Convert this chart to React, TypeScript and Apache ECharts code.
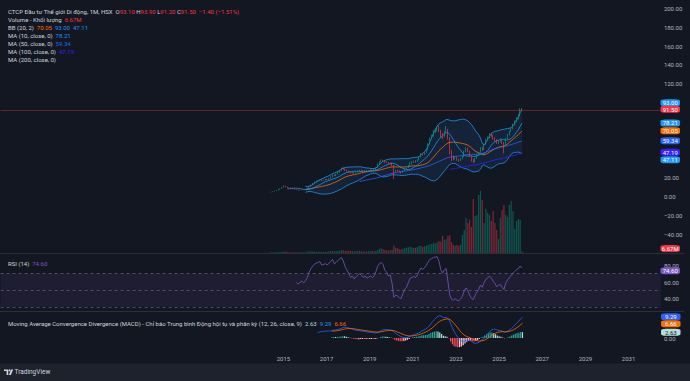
import React, { useEffect, useRef } from "react";
import * as echarts from "echarts";

// ---------- DATA (monthly bars, CTCP Đầu tư Thế giới Di động, HSX) ----------
const firstMonth = 174; // months since 2000-01  -> 2014-07
const opens = [
  4.3, 4.8, 5.3, 6.0, 6.6, 7.6, 8.3, 9.6, 11.2, 10.2,
  9.3, 8.9, 8.3, 8.0, 7.2, 6.8, 6.5, 7.0, 7.3, 7.0,
  7.6, 8.5, 10.5, 12.3, 14.0, 15.5, 16.5, 17.0, 17.8, 17.2,
  17.5, 18.2, 18.0, 19.0, 21.0, 22.8, 22.0, 23.5, 25.5, 27.5,
  30.0, 29.2, 27.8, 27.0, 26.0, 25.0, 25.8, 25.0, 26.0, 27.0,
  28.0, 27.5, 27.0, 27.8, 27.2, 27.6, 28.2, 27.8, 28.5, 30.5,
  34.5, 37.0, 38.5, 38.0, 36.5, 36.0, 35.0, 35.5, 33.0, 26.5,
  27.5, 27.0, 26.0, 25.5, 27.5, 29.5, 30.5, 33.0, 36.0, 36.5,
  37.5, 37.0, 39.0, 42.0, 45.5, 45.0, 47.0, 50.0, 56.0, 62.5,
  65.0, 69.0, 71.0, 72.0, 70.0, 66.0, 64.0, 69.0, 71.0, 62.0,
  48.0, 41.5, 40.0, 41.5, 39.0, 38.5, 40.0, 42.5, 48.0, 51.0,
  48.0, 43.0, 38.5, 37.0, 40.5, 44.0, 47.0, 52.0, 50.0, 56.0,
  61.0, 63.0, 66.5, 65.0, 62.0, 60.0, 57.0, 58.5, 59.5, 57.0,
  55.0, 62.0, 66.0, 69.5, 73.0, 77.0, 80.5, 84.0, 86.5, 93.1,
];
const highs = [
  5.1, 5.5, 6.2, 6.9, 7.9, 8.6, 9.8, 11.8, 11.6, 10.6,
  9.7, 9.4, 8.8, 8.2, 7.6, 7.1, 7.3, 7.6, 7.5, 7.9,
  8.8, 10.8, 12.6, 14.4, 15.9, 17.0, 17.4, 18.3, 18.0, 17.9,
  18.6, 18.7, 19.4, 21.4, 23.3, 23.2, 24.0, 26.0, 28.0, 30.8,
  31.0, 29.8, 28.5, 27.6, 26.5, 26.3, 26.2, 26.4, 27.5, 28.6,
  28.6, 28.0, 28.3, 28.1, 28.0, 28.8, 28.6, 29.0, 31.0, 35.0,
  37.6, 39.5, 39.2, 38.4, 37.5, 36.6, 36.2, 36.0, 33.6, 28.6,
  28.4, 27.8, 26.6, 28.0, 30.0, 31.2, 33.5, 36.5, 37.8, 38.2,
  38.6, 39.5, 42.5, 46.2, 46.5, 47.6, 50.5, 56.6, 63.0, 66.0,
  70.5, 72.5, 74.5, 75.5, 71.0, 67.5, 69.8, 75.0, 72.0, 63.0,
  49.5, 43.5, 43.0, 42.0, 40.2, 41.0, 43.5, 48.5, 52.5, 52.0,
  48.8, 43.5, 40.0, 41.0, 44.5, 47.5, 52.5, 53.0, 56.5, 61.5,
  64.0, 67.5, 68.0, 65.5, 63.0, 61.0, 59.5, 60.5, 60.0, 58.0,
  62.5, 66.5, 70.0, 73.5, 77.5, 81.0, 84.5, 87.5, 94.0, 93.9,
];
const lows = [
  4.2, 4.7, 5.2, 5.8, 6.5, 7.3, 8.1, 9.4, 9.8, 9.0,
  8.6, 8.0, 7.7, 7.0, 6.6, 6.2, 6.4, 6.8, 6.7, 6.9,
  7.5, 8.4, 10.3, 12.0, 13.6, 15.2, 16.0, 16.6, 16.7, 16.8,
  17.2, 17.5, 17.8, 18.8, 20.6, 21.5, 21.8, 23.2, 25.0, 27.2,
  28.5, 27.2, 26.5, 25.5, 24.4, 24.6, 24.5, 24.8, 25.7, 26.8,
  27.0, 26.3, 26.6, 26.8, 26.8, 27.3, 27.2, 27.5, 28.2, 30.2,
  34.0, 36.5, 37.0, 35.8, 35.5, 34.4, 34.2, 32.0, 18.5, 25.5,
  26.2, 25.4, 24.2, 25.2, 27.0, 28.8, 30.2, 32.6, 34.0, 35.8,
  36.0, 36.6, 38.6, 41.5, 43.5, 44.2, 46.5, 49.6, 55.5, 61.0,
  63.5, 67.5, 69.5, 68.5, 62.5, 61.0, 63.0, 68.0, 60.5, 45.0,
  37.5, 38.5, 39.5, 38.0, 37.0, 37.8, 39.5, 42.0, 47.0, 47.0,
  42.0, 37.0, 35.5, 36.5, 40.0, 43.5, 46.5, 48.5, 49.5, 55.0,
  59.5, 62.0, 63.5, 60.5, 58.5, 56.0, 56.0, 57.5, 56.0, 46.0,
  54.5, 61.0, 65.0, 68.5, 71.5, 75.5, 79.0, 82.0, 85.5, 91.2,
];
const closes = [
  4.8, 5.3, 6.0, 6.6, 7.6, 8.3, 9.6, 11.2, 10.2, 9.3,
  8.9, 8.3, 8.0, 7.2, 6.8, 6.5, 7.0, 7.3, 7.0, 7.6,
  8.5, 10.5, 12.3, 14.0, 15.5, 16.5, 17.0, 17.8, 17.2, 17.5,
  18.2, 18.0, 19.0, 21.0, 22.8, 22.0, 23.5, 25.5, 27.5, 30.0,
  29.2, 27.8, 27.0, 26.0, 25.0, 25.8, 25.0, 26.0, 27.0, 28.0,
  27.5, 27.0, 27.8, 27.2, 27.6, 28.2, 27.8, 28.5, 30.5, 34.5,
  37.0, 38.5, 38.0, 36.5, 36.0, 35.0, 35.5, 33.0, 26.5, 27.5,
  27.0, 26.0, 25.5, 27.5, 29.5, 30.5, 33.0, 36.0, 36.5, 37.5,
  37.0, 39.0, 42.0, 45.5, 45.0, 47.0, 50.0, 56.0, 62.5, 65.0,
  69.0, 71.0, 72.0, 70.0, 66.0, 64.0, 69.0, 71.0, 62.0, 48.0,
  41.5, 40.0, 41.5, 39.0, 38.5, 40.0, 42.5, 48.0, 51.0, 48.0,
  43.0, 38.5, 37.0, 40.5, 44.0, 47.0, 52.0, 50.0, 56.0, 61.0,
  63.0, 66.5, 65.0, 62.0, 60.0, 57.0, 58.5, 59.5, 57.0, 55.0,
  62.0, 66.0, 69.5, 73.0, 77.0, 80.5, 84.0, 86.5, 92.9, 91.5,
];
// volume, millions of shares
const volumes = [
  4, 3, 3, 4, 5, 4, 6, 9, 7, 5, 4, 4, 3, 4, 3, 3, 4, 4,
  3, 4, 5, 8, 10, 9, 8, 7, 6, 7, 6, 6,
  7, 6, 8, 10, 12, 9, 10, 12, 14, 18, 15, 12,
  13, 11, 12, 10, 9, 10, 11, 12, 10, 9, 10, 9,
  10, 9, 11, 10, 12, 18, 24, 28, 22, 18, 16, 15,
  17, 20, 45, 32, 28, 24, 22, 26, 30, 32, 35, 38,
  34, 30, 32, 36, 42, 44, 38, 40, 45, 48, 52, 55,
  62, 58, 66, 74, 70, 105, 80, 86, 105, 110, 68, 50,
  44, 48, 44, 50, 111, 142, 216, 185, 204, 160, 333, 228,
  234, 358, 383, 327, 185, 272, 247, 235, 198, 259, 185, 142,
  86, 216, 265, 296, 235, 222, 296, 321, 259, 148, 198, 210,
  204, 6.67,
];

// tick labels
const yearLabels = [2015, 2017, 2019, 2021, 2023, 2025, 2027, 2029, 2031];
const priceLabels = [200, 180, 160, 140, 120, 20, 0, -20, -40];
const rsiLabels = [80, 60, 40];
const macdLabels = [0];
const rsiBands = [70, 50, 30];

// last values shown in legends / price-scale tags
const bbLast = [70.05, 93.0, 47.11]; // basis, upper, lower
const maLast = [78.21, 59.34, 47.19]; // MA10, MA50, MA100
const volLast = "6.67M";
const rsiLast = 74.6;
const macdLast = [2.63, 9.29, 6.66]; // histogram, macd, signal

// ---------- indicators ----------
function sma(src: number[], len: number): (number | null)[] {
  return src.map((_, i) => {
    if (i < len - 1) return null;
    let s = 0;
    for (let k = i - len + 1; k <= i; k++) s += src[k];
    return s / len;
  });
}
function stdev(src: number[], len: number): (number | null)[] {
  return src.map((_, i) => {
    if (i < len - 1) return null;
    let m = 0;
    for (let k = i - len + 1; k <= i; k++) m += src[k];
    m /= len;
    let s = 0;
    for (let k = i - len + 1; k <= i; k++) s += (src[k] - m) * (src[k] - m);
    return Math.sqrt(s / len);
  });
}
function ema(src: (number | null)[], len: number): (number | null)[] {
  const out: (number | null)[] = new Array(src.length).fill(null);
  const a = 2 / (len + 1);
  const first = src.findIndex((v) => v != null);
  if (first < 0) return out;
  let prev = 0;
  for (let i = first + len - 1; i < src.length; i++) {
    if (i === first + len - 1) {
      let s = 0;
      for (let k = first; k <= i; k++) s += src[k] as number;
      prev = s / len;
    } else prev = a * (src[i] as number) + (1 - a) * prev;
    out[i] = prev;
  }
  return out;
}
function rsi(src: number[], len: number): (number | null)[] {
  const out: (number | null)[] = new Array(src.length).fill(null);
  let up = 0;
  let dn = 0;
  for (let i = 1; i < src.length; i++) {
    const ch = src[i] - src[i - 1];
    const u = Math.max(ch, 0);
    const d = Math.max(-ch, 0);
    if (i < len) {
      up += u;
      dn += d;
      continue;
    }
    if (i === len) {
      up = (up + u) / len;
      dn = (dn + d) / len;
    } else {
      up = (up * (len - 1) + u) / len;
      dn = (dn * (len - 1) + d) / len;
    }
    out[i] = dn === 0 ? 100 : 100 - 100 / (1 + up / dn);
  }
  return out;
}

const FONT = 'Roboto, "Noto Sans", sans-serif';
const TXT = "#D1D4DC";
const AXT = "#B2B5BE";
const UP = "#089981";
const DOWN = "#F23645";

function fmt(v: number) {
  return (v < 0 ? "\u2212" : "") + Math.abs(v).toFixed(2);
}

function buildOption() {
  const n = closes.length;
  const xs = closes.map((_, i) => firstMonth + i);
  const xLast = xs[n - 1];
  const pts = (arr: (number | null)[]) =>
    arr.map((v, i) => (v == null ? null : [xs[i], v])).filter((p) => p != null);

  const basis = sma(closes, 20);
  const dev = stdev(closes, 20);
  const upper = basis.map((b, i) => (b == null ? null : b + 2 * (dev[i] as number)));
  const lower = basis.map((b, i) => (b == null ? null : b - 2 * (dev[i] as number)));
  const band = xs
    .map((x, i) => (upper[i] == null ? null : [x, lower[i] as number, upper[i] as number]))
    .filter((d) => d != null) as number[][];
  const ma10 = sma(closes, 10);
  const ma50 = sma(closes, 50);
  const ma100 = sma(closes, 100);
  const rsiVals = rsi(closes, 14);
  const e12 = ema(closes, 12);
  const e26 = ema(closes, 26);
  const macd = e12.map((v, i) => (v == null || e26[i] == null ? null : v - (e26[i] as number)));
  const signal = ema(macd, 9);
  const hist = macd.map((v, i) => (v == null || signal[i] == null ? null : v - (signal[i] as number)));

  const grids = [
    { top: 1.0, height: 251.9 },
    { top: 180, height: 72.9 },
    { top: 253.1, height: 57.8 },
    { top: 312.2, height: 38.7 },
  ].map((g) => ({ left: 0.58, right: 29.12, ...g }));

  const xAxis = grids.map((_, gi) => ({
    type: "value",
    gridIndex: gi,
    min: 24,
    max: 390,
    interval: 12,
    show: gi === 3,
    axisLine: { show: false },
    axisTick: { show: false },
    splitLine: { show: false },
    axisLabel: {
      margin: 5,
      color: AXT,
      fontSize: 6,
      fontFamily: FONT,
      formatter: (v: number) => {
        const y = 2000 + v / 12;
        return yearLabels.includes(y) ? String(y) : "";
      },
    },
  }));

  const rightAxis = (gi: number, min: number, max: number, interval: number, labels: number[]) => ({
    type: "value",
    gridIndex: gi,
    position: "right",
    min,
    max,
    interval,
    axisLine: { show: false },
    axisTick: { show: false },
    splitLine: { show: false },
    axisLabel: {
      margin: 3,
      color: AXT,
      fontSize: 6,
      fontFamily: FONT,
      formatter: (v: number) => (labels.includes(v) ? fmt(v) : ""),
    },
  });

  const yAxis = [
    rightAxis(0, -60, 208, 20, priceLabels),
    { type: "value", gridIndex: 1, min: 0, max: 450, show: false, splitLine: { show: false } },
    rightAxis(2, 25, 95, 5, rsiLabels),
    rightAxis(3, -6, 12, 6, macdLabels),
  ];

  const tagDX = 148.3;
  const tag = (
    value: number,
    text: string,
    color: string,
    dy: number,
    textColor = "#FFFFFF"
  ) => ({
    name: text,
    coord: [xLast, value],
    symbolOffset: [tagDX, dy],
    itemStyle: { color },
    label: { color: textColor },
  });
  const markPointBase = {
    symbol: "roundRect",
    symbolSize: [19.5, 7],
    silent: true,
    label: {
      show: true,
      position: "inside",
      fontSize: 6,
      fontFamily: FONT,
      formatter: (p: any) => p.name,
    },
  };

  const line = (data: any[], color: string, z = 3, extra: any = {}) => ({
    type: "line",
    xAxisIndex: 0,
    yAxisIndex: 0,
    data,
    symbol: "none",
    silent: true,
    z,
    lineStyle: { color, width: 0.8 },
    ...extra,
  });

  const series: any[] = [
    // Bollinger band fill (drawn through the axes with api.coord)
    {
      type: "custom",
      xAxisIndex: 0,
      yAxisIndex: 0,
      silent: true,
      z: 1,
      data: band,
      encode: { x: 0, y: [1, 2] },
      renderItem: (params: any, api: any) => {
        if (params.dataIndex !== 0) return null;
        const top = band.map((d) => api.coord([d[0], d[2]]));
        const bottom = band.map((d) => api.coord([d[0], d[1]])).reverse();
        return {
          type: "polygon",
          shape: { points: top.concat(bottom) },
          style: { fill: "rgba(33,150,243,0.1)" },
        };
      },
    },
    line(pts(upper), "#2196F3", 3, {
      markPoint: { ...markPointBase, data: [tag(bbLast[1], bbLast[1].toFixed(2), "#2196F3", -6.3)] },
    }),
    line(pts(lower), "#2196F3", 3, {
      markPoint: { ...markPointBase, data: [tag(bbLast[2], bbLast[2].toFixed(2), "#2196F3", 7.5)] },
    }),
    line(pts(basis), "#FF6D00", 3, {
      markPoint: { ...markPointBase, data: [tag(bbLast[0], bbLast[0].toFixed(2), "#FF6D00", 0)] },
    }),
    line(pts(ma10), "#2196F3", 3, {
      markPoint: { ...markPointBase, data: [tag(maLast[0], maLast[0].toFixed(2), "#2196F3", 0)] },
    }),
    line(pts(ma50), "#2962FF", 3, {
      markPoint: { ...markPointBase, data: [tag(maLast[1], maLast[1].toFixed(2), "#2962FF", 0)] },
    }),
    line(pts(ma100), "#3A1FFF", 3, {
      markPoint: { ...markPointBase, data: [tag(maLast[2], maLast[2].toFixed(2), "#3A1FFF", 0)] },
    }),
    {
      type: "candlestick",
      xAxisIndex: 0,
      yAxisIndex: 0,
      barWidth: 1.2,
      silent: true,
      z: 5,
      data: xs.map((x, i) => [x, opens[i], closes[i], lows[i], highs[i]]),
      itemStyle: {
        color: UP,
        color0: DOWN,
        borderColor: UP,
        borderColor0: DOWN,
        borderWidth: 0.7,
      },
      markLine: {
        silent: true,
        symbol: ["none", "none"],
        label: { show: false },
        lineStyle: { color: "rgba(242,54,69,0.35)", width: 1, type: "solid" },
        data: [{ yAxis: closes[n - 1] }],
      },
      markPoint: {
        ...markPointBase,
        data: [tag(closes[n - 1], closes[n - 1].toFixed(2), DOWN, -1.2)],
      },
    },
    // volume
    {
      type: "bar",
      xAxisIndex: 1,
      yAxisIndex: 1,
      barWidth: 1.2,
      silent: true,
      z: 2,
      data: xs.map((x, i) => ({
        value: [x, volumes[i]],
        itemStyle: { color: closes[i] >= opens[i] ? "rgba(8,153,129,0.5)" : "rgba(242,54,69,0.5)" },
      })),
      markPoint: {
        ...markPointBase,
        data: [tag(volumes[n - 1], volLast, DOWN, -3.2)],
      },
    },
    // RSI
    {
      type: "line",
      xAxisIndex: 2,
      yAxisIndex: 2,
      data: pts(rsiVals),
      symbol: "none",
      silent: true,
      lineStyle: { color: "#7E57C2", width: 0.8 },
      z: 3,
      markArea: {
        silent: true,
        itemStyle: { color: "rgba(126,87,194,0.1)" },
        data: [[{ yAxis: rsiBands[2] }, { yAxis: rsiBands[0] }]],
      },
      markLine: {
        silent: true,
        symbol: ["none", "none"],
        label: { show: false },
        lineStyle: { color: "#787B86", width: 0.7, type: [3, 3], opacity: 0.8 },
        data: rsiBands.map((b) => ({ yAxis: b })),
      },
      markPoint: {
        ...markPointBase,
        data: [tag(rsiLast, rsiLast.toFixed(2), "#7E57C2", 0.8)],
      },
    },
    // MACD histogram
    {
      type: "bar",
      xAxisIndex: 3,
      yAxisIndex: 3,
      barWidth: 1.2,
      silent: true,
      z: 2,
      data: xs
        .map((x, i) => {
          const h = hist[i];
          if (h == null) return null;
          const p = hist[i - 1];
          let c: string;
          if (h >= 0) c = p != null && h < p ? "#B2DFDB" : "#26A69A";
          else c = p != null && h > p ? "#FFCDD2" : "#FF5252";
          return { value: [x, h], itemStyle: { color: c } };
        })
        .filter((d) => d != null),
      markPoint: {
        ...markPointBase,
        data: [tag(macdLast[0], macdLast[0].toFixed(2), "#B2DFDB", 0, "#131722")],
      },
    },
    {
      type: "line",
      xAxisIndex: 3,
      yAxisIndex: 3,
      data: pts(macd),
      symbol: "none",
      silent: true,
      lineStyle: { color: "#2962FF", width: 0.8 },
      z: 3,
      markPoint: {
        ...markPointBase,
        data: [tag(macdLast[1], macdLast[1].toFixed(2), "#2962FF", -1.3)],
      },
    },
    {
      type: "line",
      xAxisIndex: 3,
      yAxisIndex: 3,
      data: pts(signal),
      symbol: "none",
      silent: true,
      lineStyle: { color: "#FF6D00", width: 0.8 },
      z: 3,
      markPoint: {
        ...markPointBase,
        data: [tag(macdLast[2], macdLast[2].toFixed(2), "#FF6D00", 0)],
      },
    },
  ];

  // legend texts
  const o = opens[n - 1];
  const h = highs[n - 1];
  const l = lows[n - 1];
  const c = closes[n - 1];
  const chg = c - closes[n - 2];
  const pct = (chg / closes[n - 2]) * 100;
  const rt = (fill: string) => ({ fill, fontSize: 6, fontFamily: FONT });
  const rich = {
    t: rt(TXT),
    r: rt(DOWN),
    o: rt("#FF6D00"),
    b: rt("#2196F3"),
    m: rt("#2962FF"),
    v: rt("#3A1FFF"),
    p: rt("#7E57C2"),
    h: rt("#B2DFDB"),
  };
  const text = (x: number, y: number, s: string) => ({
    type: "text",
    x,
    y,
    silent: true,
    z: 100,
    style: { text: s, rich, fill: TXT, fontSize: 6, fontFamily: FONT, verticalAlign: "middle" },
  });
  const sign = (v: number) => (v < 0 ? "\u2212" : "+") + Math.abs(v).toFixed(2);

  const graphic: any[] = [
    { type: "rect", z: -1, silent: true, shape: { x: 0, y: 363.5, width: 690, height: 17.5 }, style: { fill: "#1E222D" } },
    { type: "line", silent: true, shape: { x1: 0, y1: 253.5, x2: 684, y2: 253.5 }, style: { stroke: "#2A2E39", lineWidth: 1 } },
    { type: "line", silent: true, shape: { x1: 0, y1: 311.5, x2: 684, y2: 311.5 }, style: { stroke: "#2A2E39", lineWidth: 1 } },
    text(
      8,
      11,
      `{t|CTCP Đầu tư Thế giới Di động, 1M, HSX  O}{r|${o.toFixed(2)}}{t| H}{r|${h.toFixed(2)}}{t| L}{r|${l.toFixed(2)}}{t| C}{r|${c.toFixed(2)}}{r|  ${sign(chg)} (${sign(pct)}%)}`
    ),
    text(8, 19, `{t|Volume - Khối lượng  }{r|${volLast}}`),
    text(8, 27, `{t|BB (20, 2)  }{o|${bbLast[0].toFixed(2)}}{b|  ${bbLast[1].toFixed(2)}  ${bbLast[2].toFixed(2)}}`),
    text(8, 35, `{t|MA (10, close, 0)  }{b|${maLast[0].toFixed(2)}}`),
    text(8, 43, `{t|MA (50, close, 0)  }{m|${maLast[1].toFixed(2)}}`),
    text(8, 51, `{t|MA (100, close, 0)  }{v|${maLast[2].toFixed(2)}}`),
    text(8, 59, `{t|MA (200, close, 0)}`),
    text(8, 263.5, `{t|RSI (14)  }{p|${rsiLast.toFixed(2)}}`),
    text(
      8,
      323,
      `{t|Moving Average Convergence Divergence (MACD) - Chỉ báo Trung bình Động hội tụ và phân kỳ (12, 26, close, 9)  }{h|${macdLast[0].toFixed(2)}}{b|  ${macdLast[1].toFixed(2)}}{o|  ${macdLast[2].toFixed(2)}}`
    ),
    // TradingView logo
    { type: "polygon", silent: true, shape: { points: [[4, 369.5], [8.3, 369.5], [8.3, 375], [6.6, 375], [6.6, 371.1], [4, 371.1]] }, style: { fill: TXT } },
    { type: "circle", silent: true, shape: { cx: 9.6, cy: 370.4, r: 0.9 }, style: { fill: TXT } },
    { type: "polygon", silent: true, shape: { points: [[11.2, 369.5], [13.2, 369.5], [10.9, 375], [8.9, 375]] }, style: { fill: TXT } },
    {
      type: "text",
      x: 14.5,
      y: 372.2,
      silent: true,
      style: { text: "TradingView", fill: TXT, fontSize: 6.5, fontFamily: FONT, verticalAlign: "middle" },
    },
  ];

  return {
    animation: false,
    backgroundColor: "#131722",
    grid: grids,
    xAxis,
    yAxis,
    series,
    graphic,
  };
}

export default function App() {
  const ref = useRef<HTMLDivElement>(null);
  useEffect(() => {
    if (!ref.current) return;
    const chart = echarts.init(ref.current, null, { renderer: "svg" });
    chart.setOption(buildOption() as any);
    return () => chart.dispose();
  }, []);
  return (
    <div
      ref={ref}
      style={{ position: "absolute", left: 0, top: 0, width: 690, height: 381 }}
    />
  );
}
